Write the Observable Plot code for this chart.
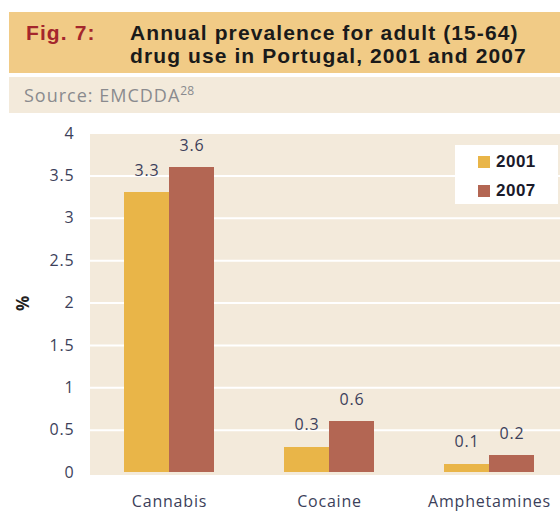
<!DOCTYPE html>
<html><head><meta charset="utf-8">
<script src="https://cdn.jsdelivr.net/npm/d3@7"></script>
<script src="https://cdn.jsdelivr.net/npm/@observablehq/plot@0.6"></script>
<style>
body{margin:0;width:560px;height:512px;overflow:hidden;position:relative;background:#fff;font-family:"Open Sans",sans-serif}
#hdr{position:absolute;left:9px;top:12px;width:551px;height:61px;background:#f1cb86;font-family:"Liberation Sans",Arial,sans-serif;font-weight:bold;font-size:21px;line-height:23px;letter-spacing:1.1px}
#fig{position:absolute;left:17px;top:9px;color:#a4262c}
#ttl{position:absolute;left:121px;top:9px;color:#1a1a1a;white-space:nowrap}
#src{position:absolute;left:9px;top:77px;width:551px;height:36px;background:#f3eadb;color:#8a8a8e;font-size:18px;line-height:36px;letter-spacing:1px}
#src span{position:absolute;left:15px;top:0}
#src sup{font-size:12px;vertical-align:7px;line-height:0;letter-spacing:0}
#chart{position:absolute;left:0;top:118px;width:570px}
#chart svg{max-width:none !important;height:394px !important}
#chart svg rect{shape-rendering:crispEdges}
#leg{position:absolute;left:455px;top:145px;width:103px;height:59px;background:#fff;font-family:"Liberation Sans",Arial,sans-serif;font-weight:bold;font-size:17px;letter-spacing:0.5px;color:#1a1a2a}
.it{position:absolute;left:23px;height:20px;line-height:20px}
.it i{display:inline-block;width:12px;height:12px;margin-right:6px;vertical-align:-1px}
#chart svg text{letter-spacing:0.8px}
g[aria-label="y-axis label"] text{font-weight:bold;fill:#222;font-size:17px}
</style></head>
<body>
<div id="hdr"><div id="fig">Fig. 7:</div><div id="ttl">Annual prevalence for adult (15-64)<br>drug use in Portugal, 2001 and 2007</div></div>
<div id="src"><span>Source: EMCDDA<sup>28</sup></span></div>
<div id="chart"></div>
<div id="leg"></div>
<script>
const categories = ["Cannabis", "Cocaine", "Amphetamines"];
const years = ["2001", "2007"];
const values2001 = [3.3, 0.3, 0.1];
const values2007 = [3.6, 0.6, 0.2];
const yTicks = [0, 0.5, 1, 1.5, 2, 2.5, 3, 3.5, 4];
const colors = ["#e9b548", "#b36653"];

const data = categories.flatMap((c, i) => [
  {cat: c, year: years[0], value: values2001[i]},
  {cat: c, year: years[1], value: values2007[i]}
]);

const chart = Plot.plot({
  width: 569, height: 394,
  marginLeft: 89, marginRight: 0, marginTop: 15, marginBottom: 40,
  style: {fontFamily: "'Open Sans', sans-serif", fontSize: "16px", color: "#3c3f5a", background: "transparent", overflow: "visible"},
  fx: {domain: categories, padding: 0, label: null, tickSize: 0, tickPadding: 23, axis: "bottom"},
  x: {domain: years, axis: null, paddingInner: 0, paddingOuter: 0.75},
  y: {domain: [0, 4], ticks: yTicks, tickFormat: d => String(d), tickSize: 0, tickPadding: 15,
      label: "%", labelAnchor: "center", labelArrow: "none", labelOffset: 73},
  color: {domain: years, range: colors},
  marks: [
    Plot.frame({fill: "#f3eadb", stroke: null, insetBottom: -2}),
    Plot.gridY(yTicks.filter(t => t > 0 && t < 4), {stroke: "#fff", strokeOpacity: 1, strokeWidth: 2}),
    Plot.barY(data, {fx: "cat", x: "year", y: "value", fill: "year"}),
    Plot.text(data, {fx: "cat", x: "year", y: "value", text: d => d.value.toFixed(1), dy: -22, fill: "#3c3f5a", fontSize: 16})
  ]
});
document.getElementById("chart").appendChild(chart);

const leg = document.getElementById("leg");
years.forEach((y, i) => {
  const d = document.createElement("div");
  d.className = "it";
  d.style.top = (7 + i * 29) + "px";
  d.innerHTML = `<i style="background:${colors[i]}"></i>${y}`;
  leg.appendChild(d);
});
</script>
</body></html>
